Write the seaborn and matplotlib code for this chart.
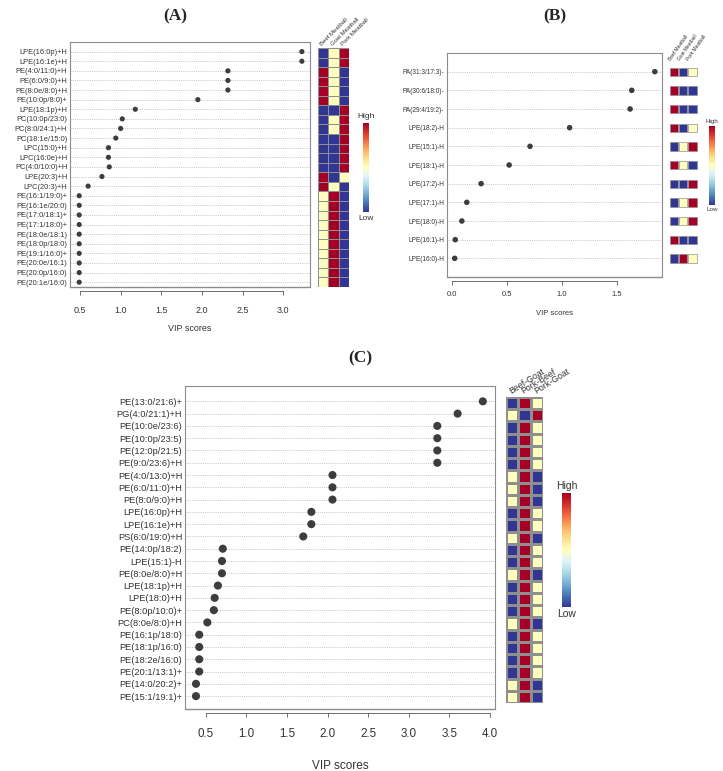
import numpy as np
import pandas as pd
import matplotlib
matplotlib.use('Agg')
import matplotlib.pyplot as plt
import seaborn as sns
from matplotlib.colors import Normalize
from matplotlib.cm import ScalarMappable

sns.set_theme(style='white')
plt.rcParams['font.family'] = ['Liberation Sans', 'DejaVu Sans']

# ---------------- data ----------------
a_labels = ['LPE(16:0p)+H', 'LPE(16:1e)+H', 'PE(4:0/11:0)+H', 'PE(6:0/9:0)+H', 'PE(8:0e/8:0)+H',
            'PE(10:0p/8:0)+', 'LPE(18:1p)+H', 'PC(10:0p/23:0)', 'PC(8:0/24:1)+H', 'PC(18:1e/15:0)',
            'LPC(15:0)+H', 'LPC(16:0e)+H', 'PC(4:0/10:0)+H', 'LPE(20:3)+H', 'LPC(20:3)+H',
            'PE(16:1/19:0)+', 'PE(16:1e/20:0)', 'PE(17:0/18:1)+', 'PE(17:1/18:0)+', 'PE(18:0e/18:1)',
            'PE(18:0p/18:0)', 'PE(19:1/16:0)+', 'PE(20:0e/16:1)', 'PE(20:0p/16:0)', 'PE(20:1e/16:0)']
a_vip = [3.23, 3.23, 2.32, 2.32, 2.32, 1.95, 1.18, 1.02, 1.0, 0.94, 0.85, 0.85, 0.86, 0.77, 0.6,
         0.49, 0.49, 0.49, 0.49, 0.49, 0.49, 0.49, 0.49, 0.49, 0.49]
a_groups = ['Beef Meatball', 'Goat Meatball', 'Pork Meatball']
a_beef = [-1, -1, 1, 1, 1, 1, -1, -1, -1, -1, -1, -1, -1, 1, 1, 0, 0, 0, 0, 0, 0, 0, 0, 0, 0]
a_goat = [0, 0, 0, 0, 0, 0, -1, 0, 0, -1, -1, -1, -1, -1, 0, 1, 1, 1, 1, 1, 1, 1, 1, 1, 1]
a_pork = [1, 1, -1, -1, -1, -1, 1, 1, 1, 1, 1, 1, 1, 0, -1, -1, -1, -1, -1, -1, -1, -1, -1, -1, -1]

b_labels = ['PA(31:3/17:3)-', 'PA(30:6/18:0)-', 'PA(29:4/19:2)-', 'LPE(18:2)-H', 'LPE(15:1)-H',
            'LPE(18:1)-H', 'LPE(17:2)-H', 'LPE(17:1)-H', 'LPE(18:0)-H', 'LPE(16:1)-H', 'LPE(16:0)-H']
b_vip = [1.845, 1.635, 1.62, 1.07, 0.71, 0.52, 0.265, 0.135, 0.09, 0.03, 0.025]
b_groups = ['Beef Meatball', 'Goat Meatball', 'Pork Meatball']
b_beef = [1, 1, 1, 1, -1, 1, -1, -1, -1, 1, -1]
b_goat = [-1, -1, -1, -1, 0, 0, -1, 0, 0, -1, 1]
b_pork = [0, -1, -1, 0, 1, -1, 1, 1, 1, -1, 0]

c_labels = ['PE(13:0/21:6)+', 'PG(4:0/21:1)+H', 'PE(10:0e/23:6)', 'PE(10:0p/23:5)', 'PE(12:0p/21:5)',
            'PE(9:0/23:6)+H', 'PE(4:0/13:0)+H', 'PE(6:0/11:0)+H', 'PE(8:0/9:0)+H', 'LPE(16:0p)+H',
            'LPE(16:1e)+H', 'PS(6:0/19:0)+H', 'PE(14:0p/18:2)', 'LPE(15:1)-H', 'PE(8:0e/8:0)+H',
            'LPE(18:1p)+H', 'LPE(18:0)+H', 'PE(8:0p/10:0)+', 'PC(8:0e/8:0)+H', 'PE(16:1p/18:0)',
            'PE(18:1p/16:0)', 'PE(18:2e/16:0)', 'PE(20:1/13:1)+', 'PE(14:0/20:2)+', 'PE(15:1/19:1)+']
c_vip = [3.91, 3.6, 3.35, 3.35, 3.35, 3.35, 2.06, 2.06, 2.06, 1.8, 1.8, 1.7, 0.71, 0.7, 0.7,
         0.65, 0.61, 0.6, 0.52, 0.42, 0.42, 0.42, 0.42, 0.38, 0.38]
c_groups = ['Beef-Goat', 'Pork-Beef', 'Pork-Goat']
c_bg = [-1, 0, -1, -1, -1, -1, 0, 0, 0, -1, -1, 0, -1, -1, 0, -1, -1, -1, 0, -1, -1, -1, -1, 0, 0]
c_pb = [1, -1, 1, 1, 1, 1, 1, 1, 1, 1, 1, 1, 1, 1, 1, 1, 1, 1, 1, 1, 1, 1, 1, 1, 1]
c_pg = [0, 1, 0, 0, 0, 0, -1, -1, -1, 0, 0, -1, 0, 0, -1, 0, 0, 0, -1, 0, 0, 0, 0, -1, -1]

# ---------------- layout helpers ----------------
W, H = 723, 771
fig = plt.figure(figsize=(W / 100, H / 100), dpi=100)
fig.patch.set_facecolor('white')
cmap = plt.get_cmap('RdYlBu_r')
norm = Normalize(vmin=-1, vmax=1)
DOT = '#3d3d3d'
FRAME = '#8c8c8c'
TXT = '#333333'


def box(l, t, r, b):
    return fig.add_axes([l / W, 1 - b / H, (r - l) / W, (b - t) / H])


def dotplot(rect, labels, vip, xlim, ylim, xticks, fs_lab, fs_tick, s, xlab_fs, xlab_pad, tick_pad):
    ax = box(*rect)
    ypos = np.arange(len(labels))
    sns.scatterplot(x=vip, y=ypos, ax=ax, color=DOT, s=s, edgecolor='none', zorder=3)
    for sp in ax.spines.values():
        sp.set_color(FRAME)
        sp.set_linewidth(0.8)
    ax.spines['bottom'].set_position(('outward', 3))
    ax.spines['bottom'].set_bounds(xticks[0], xticks[-1])
    ax.spines['bottom'].set_color('#555555')
    ax.spines['bottom'].set_linewidth(0.6)
    ax.set_yticks(ypos)
    ax.set_yticklabels(labels)
    ax.set_xlim(*xlim)
    ax.set_ylim(*ylim)
    ax.set_xticks(xticks)
    ax.set_xticklabels([f'{v:.1f}' for v in xticks])
    ax.yaxis.grid(True, color='#bdbdbd', lw=0.6, ls=(0, (1.2, 1.4)))
    ax.xaxis.grid(False)
    ax.tick_params(axis='y', length=0, pad=2, labelsize=fs_lab, labelcolor=TXT)
    ax.tick_params(axis='x', length=3, width=0.6, color='#555555', pad=tick_pad, bottom=True,
                   labelsize=fs_tick, labelcolor=TXT)
    ax.axhline(ylim[0], color=FRAME, lw=1.0, clip_on=False, zorder=5)
    ax.set_xlabel('VIP scores', fontsize=xlab_fs, color=TXT, labelpad=xlab_pad)
    ax.set_ylabel('')
    ax.set_facecolor('white')
    return ax


def colorbar(rect, fs, gap):
    cax = box(*rect)
    cb = fig.colorbar(ScalarMappable(norm=norm, cmap=cmap), cax=cax)
    cb.set_ticks([])
    cb.outline.set_visible(False)
    cax.text(0.5, 1 + gap, 'High', transform=cax.transAxes, ha='center', va='bottom',
             fontsize=fs, color=TXT)
    cax.text(0.5, -gap, 'Low', transform=cax.transAxes, ha='center', va='top',
             fontsize=fs, color=TXT)


def heat(rect, df, fs, rot, lw):
    ax = box(*rect)
    sns.heatmap(df, ax=ax, cmap=cmap, vmin=-1, vmax=1, cbar=False, linewidths=lw,
                linecolor='#8f8f8f', xticklabels=True, yticklabels=False)
    ax.xaxis.tick_top()
    ax.set_xticklabels(df.columns, rotation=rot, ha='left', va='bottom',
                       rotation_mode='anchor', fontsize=fs, color=TXT)
    ax.tick_params(axis='x', length=0, pad=1)
    ax.set_xlabel('')
    ax.set_ylabel('')
    return ax


# ---------------- Panel A ----------------
fig.text(175 / W, 1 - 16 / H, '(A)', ha='center', va='center', fontsize=12.5,
         fontweight='bold', family='Liberation Serif')
dotplot((70, 42, 310, 287), a_labels, a_vip, (0.377, 3.33), (24.5, -1.0),
        [0.5, 1.0, 1.5, 2.0, 2.5, 3.0], 5.4, 6.5, 14, 6.5, 6, 8)
dfa = pd.DataFrame({a_groups[0]: a_beef, a_groups[1]: a_goat, a_groups[2]: a_pork})
heat((318, 48, 349, 287), dfa, 4.3, 45, 0.6)
colorbar((363, 123, 369, 212), 6, 0.03)

# ---------------- Panel B ----------------
fig.text(555 / W, 1 - 16 / H, '(B)', ha='center', va='center', fontsize=12.5,
         fontweight='bold', family='Liberation Serif')
axb = dotplot((447, 53, 662, 277), b_labels, b_vip, (-0.045, 1.91), (11.0, -1.0),
              [0.0, 0.5, 1.0, 1.5], 4.7, 5.5, 16, 5.5, 9, 4)
# heatmap B as square tiles aligned to the dot rows
hb = box(668, 53, 700, 277)
long_b = pd.DataFrame({
    'row': np.repeat(np.arange(len(b_labels)), 3),
    'col': np.tile(np.arange(3), len(b_labels)),
    'val': np.column_stack([b_beef, b_goat, b_pork]).ravel(),
})
sns.scatterplot(data=long_b, x='col', y='row', hue='val', palette='RdYlBu_r', hue_norm=(-1, 1),
                marker='s', s=36, edgecolor='#8f8f8f', linewidth=0.5, legend=False, ax=hb)
hb.set_xlim(-0.7, 2.85)
hb.set_ylim(11.0, -1.0)
hb.set_axis_off()
for j, g in enumerate(b_groups):
    hb.text(j - 0.3, -0.55, g, rotation=55, rotation_mode='anchor', ha='left', va='bottom',
            fontsize=3.5, color=TXT)
colorbar((709, 126, 715, 205), 4.5, 0.03)

# ---------------- Panel C ----------------
fig.text(360 / W, 1 - 358 / H, '(C)', ha='center', va='center', fontsize=12.5,
         fontweight='bold', family='Liberation Serif')
dotplot((185, 386, 495, 709), c_labels, c_vip, (0.245, 4.06), (25.05, -1.25),
        [0.5, 1.0, 1.5, 2.0, 2.5, 3.0, 3.5, 4.0], 6.7, 8.4, 34, 8.5, 14, 8)
dfc = pd.DataFrame({c_groups[0]: c_bg, c_groups[1]: c_pb, c_groups[2]: c_pg})
heat((506, 397, 543, 703), dfc, 6.3, 32, 0.8)
colorbar((562, 493, 571, 607), 7.5, 0.02)

fig.savefig('out.png', dpi=100, facecolor='white')
